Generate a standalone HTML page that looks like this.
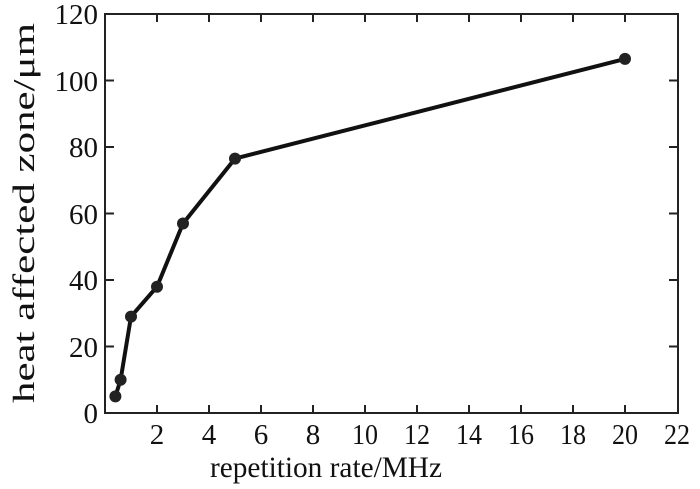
<!DOCTYPE html>
<html><head><style>body{margin:0;background:#fff}svg{display:block}text{font-family:"Liberation Serif",serif;fill:#111}</style></head>
<body>
<svg width="700" height="489" viewBox="0 0 700 489">
<rect x="105" y="14" width="573" height="399" fill="none" stroke="#222" stroke-width="2"/>
<g stroke="#222" stroke-width="2">
<line x1="157" y1="413" x2="157" y2="405"/><line x1="209" y1="413" x2="209" y2="405"/><line x1="261" y1="413" x2="261" y2="405"/><line x1="313" y1="413" x2="313" y2="405"/><line x1="365" y1="413" x2="365" y2="405"/><line x1="417" y1="413" x2="417" y2="405"/><line x1="469" y1="413" x2="469" y2="405"/><line x1="521" y1="413" x2="521" y2="405"/><line x1="573" y1="413" x2="573" y2="405"/><line x1="625" y1="413" x2="625" y2="405"/>
<line x1="157" y1="14" x2="157" y2="22"/><line x1="209" y1="14" x2="209" y2="22"/><line x1="261" y1="14" x2="261" y2="22"/><line x1="313" y1="14" x2="313" y2="22"/><line x1="365" y1="14" x2="365" y2="22"/><line x1="417" y1="14" x2="417" y2="22"/><line x1="469" y1="14" x2="469" y2="22"/><line x1="521" y1="14" x2="521" y2="22"/><line x1="573" y1="14" x2="573" y2="22"/><line x1="625" y1="14" x2="625" y2="22"/>
<line x1="105" y1="346.5" x2="114" y2="346.5"/><line x1="105" y1="280" x2="114" y2="280"/><line x1="105" y1="213.5" x2="114" y2="213.5"/><line x1="105" y1="147" x2="114" y2="147"/><line x1="105" y1="80.5" x2="114" y2="80.5"/>
<line x1="678" y1="346.5" x2="669" y2="346.5"/><line x1="678" y1="280" x2="669" y2="280"/><line x1="678" y1="213.5" x2="669" y2="213.5"/><line x1="678" y1="147" x2="669" y2="147"/><line x1="678" y1="80.5" x2="669" y2="80.5"/>
</g>
<polyline points="115.4,396.4 120.6,379.8 131,316.6 157,286.7 183,223.5 235,158.6 625,58.9" fill="none" stroke="#111" stroke-width="4" stroke-linejoin="round"/>
<g fill="#222">
<circle cx="115.4" cy="396.4" r="6"/><circle cx="120.6" cy="379.8" r="6"/><circle cx="131" cy="316.6" r="6"/><circle cx="157" cy="286.7" r="6"/><circle cx="183" cy="223.5" r="6"/><circle cx="235" cy="158.6" r="6"/><circle cx="625" cy="58.9" r="6"/>
</g>
<g font-size="29" text-anchor="end">
<text x="98" y="423">0</text><text x="98" y="357">20</text><text x="98" y="290">40</text><text x="98" y="224">60</text><text x="98" y="157">80</text><text x="98" y="91">100</text><text x="98" y="24">120</text>
</g>
<g font-size="29" text-anchor="middle">
<text x="157" y="444">2</text><text x="209" y="444">4</text><text x="261" y="444">6</text><text x="313" y="444">8</text>
<text x="365" y="444" textLength="26" lengthAdjust="spacingAndGlyphs">10</text><text x="417" y="444" textLength="26" lengthAdjust="spacingAndGlyphs">12</text><text x="469" y="444" textLength="26" lengthAdjust="spacingAndGlyphs">14</text><text x="521" y="444" textLength="26" lengthAdjust="spacingAndGlyphs">16</text><text x="573" y="444" textLength="26" lengthAdjust="spacingAndGlyphs">18</text><text x="625" y="444" textLength="26" lengthAdjust="spacingAndGlyphs">20</text><text x="677" y="444" textLength="26" lengthAdjust="spacingAndGlyphs">22</text>
</g>
<text x="326" y="477" font-size="30" text-anchor="middle" textLength="232" lengthAdjust="spacingAndGlyphs">repetition rate/MHz</text>
<text transform="translate(34,213) rotate(-90)" font-size="31" text-anchor="middle" textLength="380" lengthAdjust="spacingAndGlyphs">heat affected zone/μm</text>
</svg>
</body></html>
